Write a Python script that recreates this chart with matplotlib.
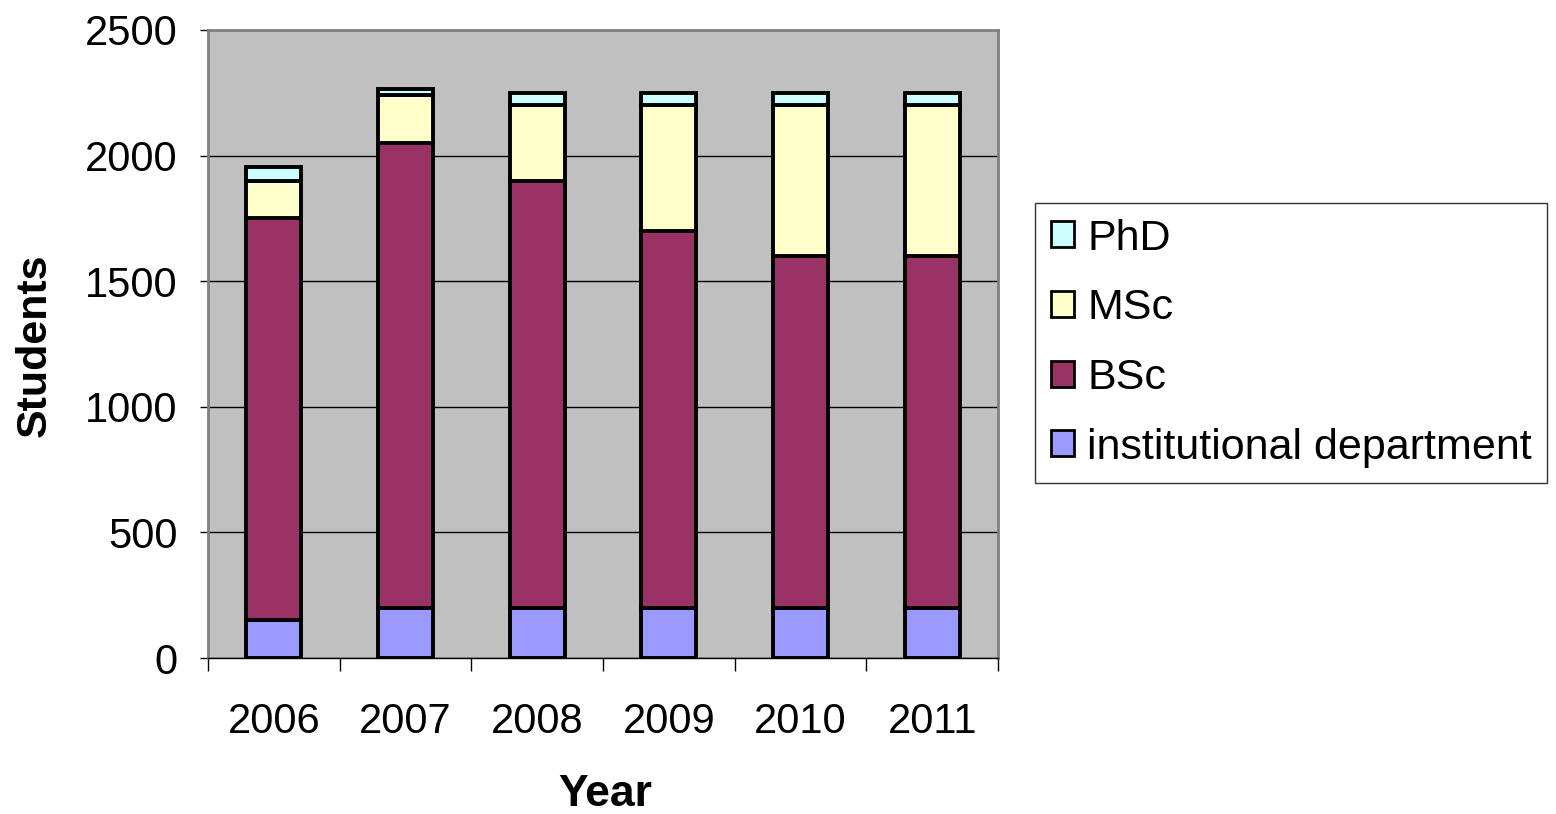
import matplotlib
matplotlib.use("Agg")
import matplotlib.pyplot as plt
import numpy as np
from matplotlib.ticker import FixedLocator, NullFormatter, FixedFormatter

plt.rcParams['font.family'] = ['Liberation Sans', 'DejaVu Sans']

years = ['2006', '2007', '2008', '2009', '2010', '2011']
institutional = [150, 200, 200, 200, 200, 200]
bsc = [1600, 1850, 1700, 1500, 1400, 1400]
msc = [150, 190, 300, 500, 600, 600]
phd = [55, 25, 50, 50, 50, 50]

series = [('institutional department', institutional, '#9999FF'),
          ('BSc', bsc, '#993366'),
          ('MSc', msc, '#FFFFCC'),
          ('PhD', phd, '#CCFFFF')]

fig = plt.figure(figsize=(15.56, 8.14), dpi=100)
ax = fig.add_axes([208/1556, 1-658/814, 790/1556, 628/814])
ax.set_facecolor('#C0C0C0')

x = np.arange(len(years))
bottom = np.zeros(len(years))
handles = []
for name, vals, col in series:
    b = ax.bar(x, vals, width=0.42, bottom=bottom, color=col, edgecolor='black',
               linewidth=2.8, label=name, zorder=3)
    handles.append(b)
    bottom = bottom + np.array(vals)

ax.set_xlim(-0.5, len(years) - 0.5)
ax.set_ylim(0, 2500)
ax.set_yticks(np.arange(0, 2501, 500))
ax.yaxis.grid(True, color='black', linewidth=1)
ax.set_axisbelow(True)

ax.xaxis.set_major_locator(FixedLocator(np.arange(-0.5, len(years), 1.0)))
ax.xaxis.set_major_formatter(NullFormatter())
ax.xaxis.set_minor_locator(FixedLocator(x))
ax.xaxis.set_minor_formatter(FixedFormatter(years))
ax.tick_params(axis='x', which='major', length=9, width=1, direction='out', color='black')
ax.tick_params(axis='x', which='minor', length=0, pad=32, labelsize=30)
ax.tick_params(axis='y', length=6, width=1, direction='out', pad=16, labelsize=30)

for sp in ['top', 'right', 'left']:
    ax.spines[sp].set_color('#808080')
    ax.spines[sp].set_linewidth(2)
ax.spines['bottom'].set_color('black')
ax.spines['bottom'].set_linewidth(1)

fig.text(35/1556, 1-345/814, 'Students', rotation=90, ha='center', va='center',
         fontsize=31, fontweight='bold')
fig.text(605/1556, 1-795/814, 'Year', ha='center', va='center',
         fontsize=32, fontweight='bold')

leg = fig.legend(handles[::-1], [s[0] for s in series][::-1],
                 loc='upper left', bbox_to_anchor=(1035/1556, 1-203/814),
                 frameon=True, fancybox=False, fontsize=31, handlelength=0.55,
                 handleheight=0.55, handletextpad=0.3, labelspacing=0.69,
                 borderpad=0.36, borderaxespad=0)
leg.get_frame().set_edgecolor('black')
leg.get_frame().set_linewidth(1)
for p in leg.get_patches():
    p.set_linewidth(2)

fig.savefig('out.png', dpi=100)
